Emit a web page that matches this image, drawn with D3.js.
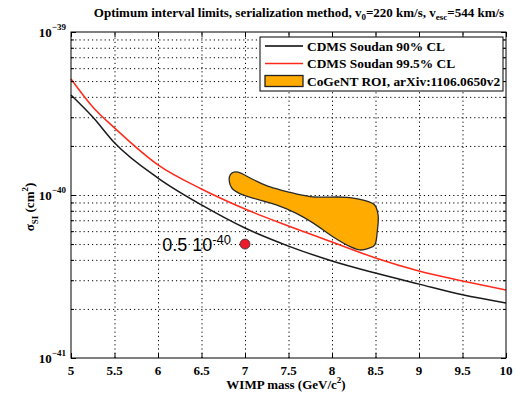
<!DOCTYPE html>
<html><head><meta charset="utf-8">
<script src="https://cdn.jsdelivr.net/npm/d3@7"></script>
<style>
body{margin:0;background:#fff;}
svg{display:block;}
text{font-family:"Liberation Serif","Times New Roman",serif;font-weight:bold;fill:#000;}
</style></head><body>
<svg id="c" width="516" height="397"></svg>
<script>
// ---- data ----
const massTicks = [5,5.5,6,6.5,7,7.5,8,8.5,9,9.5,10];
const decadeTicks = [1e-41,1e-40,1e-39];
const decadeExps = ["-41","-40","-39"];
const minorTicks = [2e-41,3e-41,4e-41,5e-41,6e-41,7e-41,8e-41,9e-41,2e-40,3e-40,4e-40,5e-40,6e-40,7e-40,8e-40,9e-40];

const curveMass = [5,5.25,5.5,6,6.5,7,7.5,8,8.5,9,9.5,10];
const cdms90 =  [4.11e-40,3.01e-40,2.09e-40,1.27e-40,8.69e-41,6.27e-41,4.86e-41,3.94e-41,3.32e-41,2.84e-41,2.44e-41,2.175e-41];
const cdms995 = [5.15e-40,3.47e-40,2.58e-40,1.53e-40,1.088e-40,8.2e-41,6.45e-41,5.15e-41,4.11e-41,3.42e-41,2.97e-41,2.61e-41];

const roiMass  = [6.83,6.87,6.92,7.10,7.29,7.48,7.75,8.17,8.36,8.49,8.53,8.52,8.49,8.42,8.32,8.21,8.01,7.79,7.59,7.36,7.10,6.94,6.85,6.82];
const roiSigma = [1.33e-40,1.38e-40,1.38e-40,1.24e-40,1.12e-40,1.05e-40,9.77e-41,9.68e-41,9.31e-41,8.69e-41,7.54e-41,5.95e-41,4.93e-41,4.71e-41,4.60e-41,4.82e-41,5.55e-41,6.70e-41,7.72e-41,8.69e-41,9.54e-41,1.02e-40,1.10e-40,1.21e-40];

const pointMass = [7];
const pointSigma = [5e-41];
const pointLabel = ["0.5 10", "-40"];

const legendLabels = ["CDMS Soudan 90% CL","CDMS Soudan 99.5% CL","CoGeNT ROI, arXiv:1106.0650v2"];

// ---- layout ----
const L=71,R=506,T=32,B=358;
const svg=d3.select("#c");
const x=d3.scaleLinear().domain([5,10]).range([L,R]);
const y=d3.scaleLog().domain([1e-41,1e-39]).range([B,T]);

// gridlines
const grid=svg.append("g").attr("class","grid");
grid.append("g").attr("transform",`translate(0,${B})`)
  .call(d3.axisBottom(x).tickValues(massTicks.slice(1,-1)).tickSize(-(B-T)).tickFormat(""));
grid.append("g").attr("transform",`translate(${L},0)`)
  .call(d3.axisLeft(y).tickValues(minorTicks.concat([1e-40])).tickSize(-(R-L)).tickFormat(""));
grid.selectAll(".domain").remove();
grid.selectAll("line").attr("stroke","#000").attr("stroke-width",1).attr("stroke-dasharray","1.2,3");

// curves
const line=d3.line().x(d=>x(d[0])).y(d=>y(d[1])).curve(d3.curveMonotoneX);
svg.append("path").datum(curveMass.map((m,i)=>[m,cdms90[i]]))
  .attr("d",line).attr("fill","none").attr("stroke","#1a1a1a").attr("stroke-width",1.5);
svg.append("path").datum(curveMass.map((m,i)=>[m,cdms995[i]]))
  .attr("d",line).attr("fill","none").attr("stroke","#ff2a1a").attr("stroke-width",1.5);

// ROI
const roi=d3.line().x(d=>x(d[0])).y(d=>y(d[1])).curve(d3.curveCatmullRomClosed.alpha(0.5));
svg.append("path").datum(roiMass.map((m,i)=>[m,roiSigma[i]]))
  .attr("d",roi).attr("fill","#ffab00").attr("stroke","#2a2a2a").attr("stroke-width",1.3);

// point
svg.selectAll("circle.pt").data(pointMass).join("circle").attr("class","pt")
  .attr("cx",(d)=>x(d)).attr("cy",(d,i)=>y(pointSigma[i])).attr("r",5)
  .attr("fill","#ee1c2a").attr("stroke","#333").attr("stroke-width",0.8);
const pl=svg.append("text").attr("x",x(pointMass[0])-14).attr("y",y(pointSigma[0])+7)
  .attr("text-anchor","end").style("font-family","'Liberation Sans',Arial,sans-serif").style("font-weight","normal")
  .attr("font-size",18);
pl.append("tspan").text(pointLabel[0]);
pl.append("tspan").attr("dy",-7).attr("font-size",13).text(pointLabel[1]);

// axes box & ticks
const ax=svg.append("g");
function styleAx(g){g.selectAll(".domain").remove();g.selectAll("line").attr("stroke","#000");g.selectAll("text").remove();}
ax.append("g").attr("transform",`translate(0,${B})`).call(d3.axisBottom(x).tickValues(massTicks).tickSizeInner(-5).tickSizeOuter(0)).call(styleAx);
ax.append("g").attr("transform",`translate(0,${T})`).call(d3.axisTop(x).tickValues(massTicks).tickSizeInner(-5).tickSizeOuter(0)).call(styleAx);
ax.append("g").attr("transform",`translate(${L},0)`).call(d3.axisLeft(y).tickValues(decadeTicks).tickSizeInner(-5).tickSizeOuter(0)).call(styleAx);
ax.append("g").attr("transform",`translate(${L},0)`).call(d3.axisLeft(y).tickValues(minorTicks).tickSizeInner(-3).tickSizeOuter(0)).call(styleAx);
ax.append("g").attr("transform",`translate(${R},0)`).call(d3.axisRight(y).tickValues(decadeTicks).tickSizeInner(-5).tickSizeOuter(0)).call(styleAx);
ax.append("g").attr("transform",`translate(${R},0)`).call(d3.axisRight(y).tickValues(minorTicks).tickSizeInner(-3).tickSizeOuter(0)).call(styleAx);

// legend
const lg=svg.append("g");
lg.append("rect").attr("x",260).attr("y",37).attr("width",243).attr("height",54).attr("fill","#fff").attr("stroke","#000").attr("stroke-width",1);
const ly=[46,63.5,81];
lg.append("line").attr("x1",265).attr("x2",303).attr("y1",ly[0]).attr("y2",ly[0]).attr("stroke","#000").attr("stroke-width",1.6);
lg.append("line").attr("x1",265).attr("x2",303).attr("y1",ly[1]).attr("y2",ly[1]).attr("stroke","#ff2a1a").attr("stroke-width",1.6);
lg.append("rect").attr("x",265).attr("y",75.5).attr("width",38).attr("height",11).attr("fill","#ffab00").attr("stroke","#222").attr("stroke-width",1.3);
legendLabels.forEach((t,i)=>lg.append("text").attr("x",307).attr("y",ly[i]+4.5).attr("font-size",13.4).text(t));

svg.append("rect").attr("x",L).attr("y",T).attr("width",R-L).attr("height",B-T).attr("fill","none").attr("stroke","#000").attr("stroke-width",1);

// tick labels
massTicks.forEach(m=>svg.append("text").attr("x",x(m)).attr("y",375).attr("text-anchor","middle").attr("font-size",13).text(m));
decadeTicks.forEach((v,i)=>{
  const t=svg.append("text").attr("x",66).attr("y",y(v)+5).attr("text-anchor","end").attr("font-size",13);
  t.append("tspan").text("10");
  t.append("tspan").attr("dy",-7).attr("font-size",9).text("\u2212"+decadeExps[i].slice(1));
});

// title
const tt=svg.append("text").attr("x",299).attr("y",17).attr("text-anchor","middle").attr("font-size",13);
tt.append("tspan").text("Optimum interval limits, serialization method, v");
tt.append("tspan").attr("dy",3).attr("font-size",9).text("0");
tt.append("tspan").attr("dy",-3).text("=220 km/s, v");
tt.append("tspan").attr("dy",3).attr("font-size",9).text("esc");
tt.append("tspan").attr("dy",-3).text("=544 km/s");

// x label
const xl=svg.append("text").attr("x",286).attr("y",389).attr("text-anchor","middle").attr("font-size",13);
xl.append("tspan").text("WIMP mass (GeV/c");
xl.append("tspan").attr("dy",-6).attr("font-size",9).text("2");
xl.append("tspan").attr("dy",6).text(")");

// y label
const yl=svg.append("text").attr("transform","translate(34,207) rotate(-90)").attr("text-anchor","middle").attr("font-size",13);
yl.append("tspan").text("\u03c3");
yl.append("tspan").attr("dy",4).attr("font-size",9).text("SI");
yl.append("tspan").attr("dy",-4).text(" (cm");
yl.append("tspan").attr("dy",-6).attr("font-size",9).text("2");
yl.append("tspan").attr("dy",6).text(")");
</script></body></html>
